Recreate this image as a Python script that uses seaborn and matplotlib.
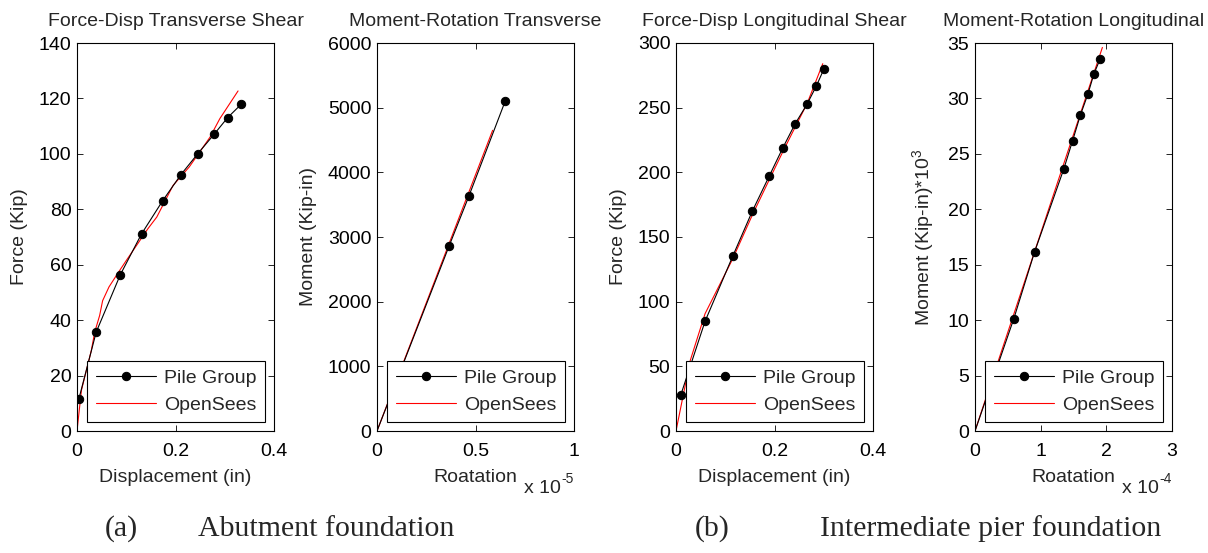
import numpy as np
import matplotlib
matplotlib.use('Agg')
import matplotlib.pyplot as plt
import seaborn as sns

# pile group results (markers) and OpenSees curves
trans_disp = [0.004, 0.039, 0.088, 0.131, 0.174, 0.211, 0.245, 0.279, 0.306, 0.334]
trans_force = [11.7, 35.7, 56.4, 71.1, 83.1, 92.5, 100.0, 107.2, 113.1, 118.0]
ops_trans_disp = [0.0, 0.009, 0.029, 0.036, 0.046, 0.052, 0.065, 0.085, 0.100, 0.144,
                  0.162, 0.195, 0.228, 0.270, 0.290, 0.327]
ops_trans_force = [0.0, 14.7, 29.0, 35.7, 41.7, 47.0, 52.0, 57.5, 61.5, 73.0,
                   77.2, 88.6, 95.3, 106.0, 112.7, 122.7]

trans_rot = [0.0, 0.366, 0.466, 0.651]          # x 1e-5
trans_mom = [0.0, 2861, 3629, 5103]
ops_trans_rot = [0.0, 0.587]
ops_trans_mom = [0.0, 4650]

long_disp = [0.0095, 0.059, 0.115, 0.155, 0.189, 0.217, 0.242, 0.266, 0.285, 0.300]
long_force = [27.6, 84.8, 135.0, 170.0, 196.9, 219.0, 237.6, 252.6, 266.8, 279.6]
ops_long_disp = [0.0, 0.029, 0.059, 0.115, 0.155, 0.189, 0.217, 0.242, 0.266, 0.298]
ops_long_force = [0.0, 54.6, 90.7, 133.0, 167.0, 194.0, 216.0, 235.0, 253.0, 284.0]

long_rot = [0.0, 0.591, 0.907, 1.35, 1.487, 1.605, 1.72, 1.81, 1.905]   # x 1e-4
long_mom = [0.0, 10.13, 16.15, 23.6, 26.2, 28.5, 30.4, 32.2, 33.55]
ops_long_rot = [0.0, 1.94]
ops_long_mom = [0.0, 34.6]

titles = ['Force-Disp Transverse Shear', 'Moment-Rotation Transverse',
          'Force-Disp Longitudinal Shear', 'Moment-Rotation Longitudinal']
xlabels = ['Displacement (in)', 'Roatation', 'Displacement (in)', 'Roatation']
ylabels = ['Force (Kip)', 'Moment (Kip-in)', 'Force (Kip)', 'Moment (Kip-in)*10$^3$']
exponents = [None, '-5', None, '-4']
xlims = [(0, 0.4), (0, 1), (0, 0.4), (0, 3)]
ylims = [(0, 140), (0, 6000), (0, 300), (0, 35)]
xticks = [[0, 0.2, 0.4], [0, 0.5, 1], [0, 0.2, 0.4], [0, 1, 2, 3]]
xticklabels = [['0', '0.2', '0.4'], ['0', '0.5', '1'], ['0', '0.2', '0.4'], ['0', '1', '2', '3']]

series = [
    (trans_disp, trans_force, ops_trans_disp, ops_trans_force),
    (trans_rot, trans_mom, ops_trans_rot, ops_trans_mom),
    (long_disp, long_force, ops_long_disp, ops_long_force),
    (long_rot, long_mom, ops_long_rot, ops_long_mom),
]
# first point of the moment curves starts at the origin without a marker
skip_first_marker = [False, True, False, True]

sns.set_style('ticks')
plt.rcParams['font.family'] = ['Liberation Sans', 'DejaVu Sans']
plt.rcParams['mathtext.fontset'] = 'custom'
plt.rcParams['mathtext.rm'] = 'Liberation Sans'
fs = 14

W, H = 1208, 553
fig = plt.figure(figsize=(W / 100, H / 100), dpi=100)
fig.patch.set_facecolor('white')

lefts = [77, 377, 676, 975]
ax_w, ax_top, ax_bot = 197, 43, 431

for i in range(4):
    ax = fig.add_axes([lefts[i] / W, 1 - ax_bot / H, ax_w / W, (ax_bot - ax_top) / H])
    x, y, ox, oy = series[i]
    start = 1 if skip_first_marker[i] else 0
    # black line through all points, markers on the measured points
    sns.lineplot(x=x, y=y, ax=ax, color='black', linewidth=0.8, sort=False,
                 estimator=None, marker='o', markersize=6, markeredgecolor='black',
                 markevery=list(range(start, len(x))), label='Pile Group', zorder=3)
    sns.lineplot(x=ox, y=oy, ax=ax, color='red', linewidth=0.8, sort=False,
                 estimator=None, label='OpenSees', zorder=2)

    ax.set_xlim(*xlims[i])
    ax.set_ylim(*ylims[i])
    ax.set_xticks(xticks[i])
    ax.set_xticklabels(xticklabels[i])
    ax.set_title(titles[i], fontsize=fs, pad=12)
    ax.set_xlabel(xlabels[i], fontsize=fs, labelpad=6.5)
    ax.set_ylabel(ylabels[i], fontsize=fs, labelpad=7.5)
    ax.tick_params(direction='in', top=True, right=True, length=4, width=0.6,
                   labelsize=fs, colors='black')
    ax.tick_params(axis='x', pad=8.5)
    ax.tick_params(axis='y', pad=4)
    for s in ax.spines.values():
        s.set_visible(True)
        s.set_linewidth(0.8)
        s.set_color('black')
    if exponents[i]:
        # MATLAB style "x 10^-n" multiplier under the right end of the x axis
        ax.annotate('x 10', xy=(1.0, 0), xycoords='axes fraction', xytext=(-13, -62),
                    textcoords='offset pixels', ha='right', va='baseline', fontsize=fs)
        ax.annotate(exponents[i], xy=(1.0, 0), xycoords='axes fraction', xytext=(0, -52),
                    textcoords='offset pixels', ha='right', va='baseline', fontsize=10)

    leg = ax.legend(loc='lower right', fontsize=fs, handlelength=3.1, handletextpad=0.4,
                    borderaxespad=0.45, borderpad=0.45, labelspacing=0.45,
                    fancybox=False, framealpha=1, edgecolor='black')
    leg.get_frame().set_linewidth(0.8)

cap = dict(fontsize=21.5, family='Liberation Serif', va='center')
fig.text(105 / W, 1 - 529 / H, '(a)', **cap)
fig.text(198 / W, 1 - 529 / H, 'Abutment foundation', **cap)
fig.text(695 / W, 1 - 529 / H, '(b)', **cap)
fig.text(820 / W, 1 - 529 / H, 'Intermediate pier foundation', **cap)

fig.savefig('out.png', dpi=100)
